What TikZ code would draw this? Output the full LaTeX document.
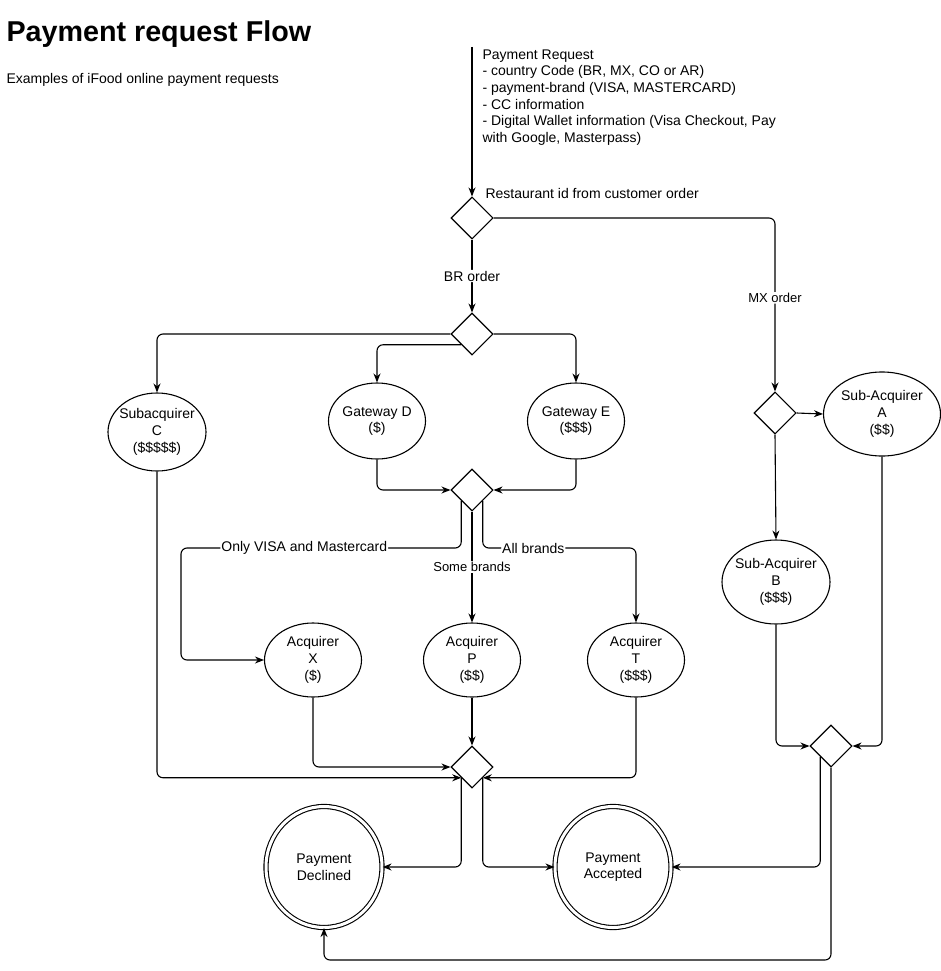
\documentclass[tikz,border=0pt]{standalone}
\usepackage{fontspec}
\setmainfont{Liberation Sans}
\usetikzlibrary{shapes,arrows.meta,calc}

\newcommand{\txtsz}{\fontsize{14}{16.7}\selectfont}
\newcommand{\smallsz}{\fontsize{13}{15}\selectfont}

\begin{document}
\begin{tikzpicture}[x=1pt,y=-1pt,line width=1.1pt,
  >={Stealth[length=9pt,width=7pt]},
  decision/.style={draw,diamond,minimum size=42pt,inner sep=0pt},
  state/.style={draw,ellipse,align=center,inner xsep=-8pt,inner ysep=0pt,font=\txtsz},
  final/.style={state,double,double distance=3pt},
  lbl/.style={fill=white,inner sep=1pt,font=\txtsz},
  link/.style={->,rounded corners=6pt}]
\useasboundingbox (0,0) rectangle (941,971);

\node[anchor=base west,inner sep=0pt,font=\bfseries\fontsize{28.7}{34}\selectfont] (title) at (6,42) {Payment request Flow};
\node[anchor=base west,font=\txtsz,inner sep=0pt] (sub) at (6,84) {Examples of iFood online payment requests};

\coordinate (start) at (472,47);
\node[anchor=north west,align=left,font=\txtsz,inner sep=0pt] (req) at (482,49) {Payment Request\\- country Code (BR, MX, CO or AR)\\- payment-brand (VISA, MASTERCARD)\\- CC information\\- Digital Wallet information (Visa Checkout, Pay\\with Google, Masterpass)};
\node[anchor=base west,font=\txtsz,inner sep=0pt] (rest) at (485,198) {Restaurant id from customer order};

\node[decision] (d1) at (472,218) {};
\node[decision] (d2) at (472,334) {};
\node[decision] (d3) at (472,490) {};
\node[decision] (d4) at (472,767) {};
\node[decision] (dMX) at (775,413) {};
\node[decision] (d5) at (831,746) {};

\node[state,minimum width=98pt,minimum height=78pt] (cC) at (157,432) {Subacquirer\\C\\(\$\$\$\$\$)};
\node[state,minimum width=97pt,minimum height=76pt] (gD) at (377,421) {Gateway D\\(\$)};
\node[state,minimum width=97pt,minimum height=76pt] (gE) at (576,421) {Gateway E\\(\$\$\$)};
\node[state,minimum width=97pt,minimum height=74pt] (aX) at (313,660) {Acquirer\\X\\(\$)};
\node[state,minimum width=97pt,minimum height=74pt] (aP) at (472,660) {Acquirer\\P\\(\$\$)};
\node[state,minimum width=97pt,minimum height=74pt] (aT) at (636,660) {Acquirer\\T\\(\$\$\$)};
\node[state,minimum width=117pt,minimum height=84pt] (sA) at (882,414) {Sub-Acquirer\\A\\(\$\$)};
\node[state,minimum width=108pt,minimum height=84pt] (sB) at (776,582) {Sub-Acquirer\\B\\(\$\$\$)};
\node[final,minimum width=116pt,minimum height=121pt] (dec) at (324,867) {Payment\\Declined};
\node[final,minimum width=116pt,minimum height=121pt] (acc) at (613,867) {Payment\\Accepted};

\coordinate (bendX) at (181,548);
\coordinate (low) at (0,960);

% BR orders
\draw[link] (start) -- (d1.north);
\draw[link] (d1.south) -- node[lbl] {BR order} (d2.north);
\draw[link] (d2.west) -| (cC.north);
\draw[link] (d2.south west) -| (gD.north);
\draw[link] (d2.east) -| (gE.north);
\draw[link] (gD.south) |- (d3.west);
\draw[link] (gE.south) |- (d3.east);
\draw[link] (d3.south west) |- node[lbl,pos=0.78] {Only VISA and Mastercard} (bendX) |- (aX.west);
\draw[link] (d3.south) -- node[lbl,font=\smallsz] {Some brands} (aP.north);
\draw[link] (d3.south east) |- node[lbl,pos=0.665] {All brands} (aT.north |- bendX) -- (aT.north);
\draw[link] (cC.south) |- (d4.south west);
\draw[link] (aX.south) |- (d4.west);
\draw[link] (aP.south) -- (d4.north);
\draw[link] (aT.south) |- (d4.south east);
\draw[link] (d4.south west) |- (dec.east);
\draw[link] (d4.south east) |- (acc.west);

% MX orders
\draw[link] (d1.east) -| node[lbl,font=\smallsz,pos=0.73] {MX order} (dMX.north);
\draw[link] (dMX.east) -- (sA.west);
\draw[link] (dMX.south) -- (sB.north);
\draw[link] (sB.south) |- (d5.west);
\draw[link] (sA.south) |- (d5.east);
\draw[link] (d5.south west) |- (acc.east);
\draw[link] (d5.south) -- (d5.south |- low) -| (dec.south);
\end{tikzpicture}
\end{document}
